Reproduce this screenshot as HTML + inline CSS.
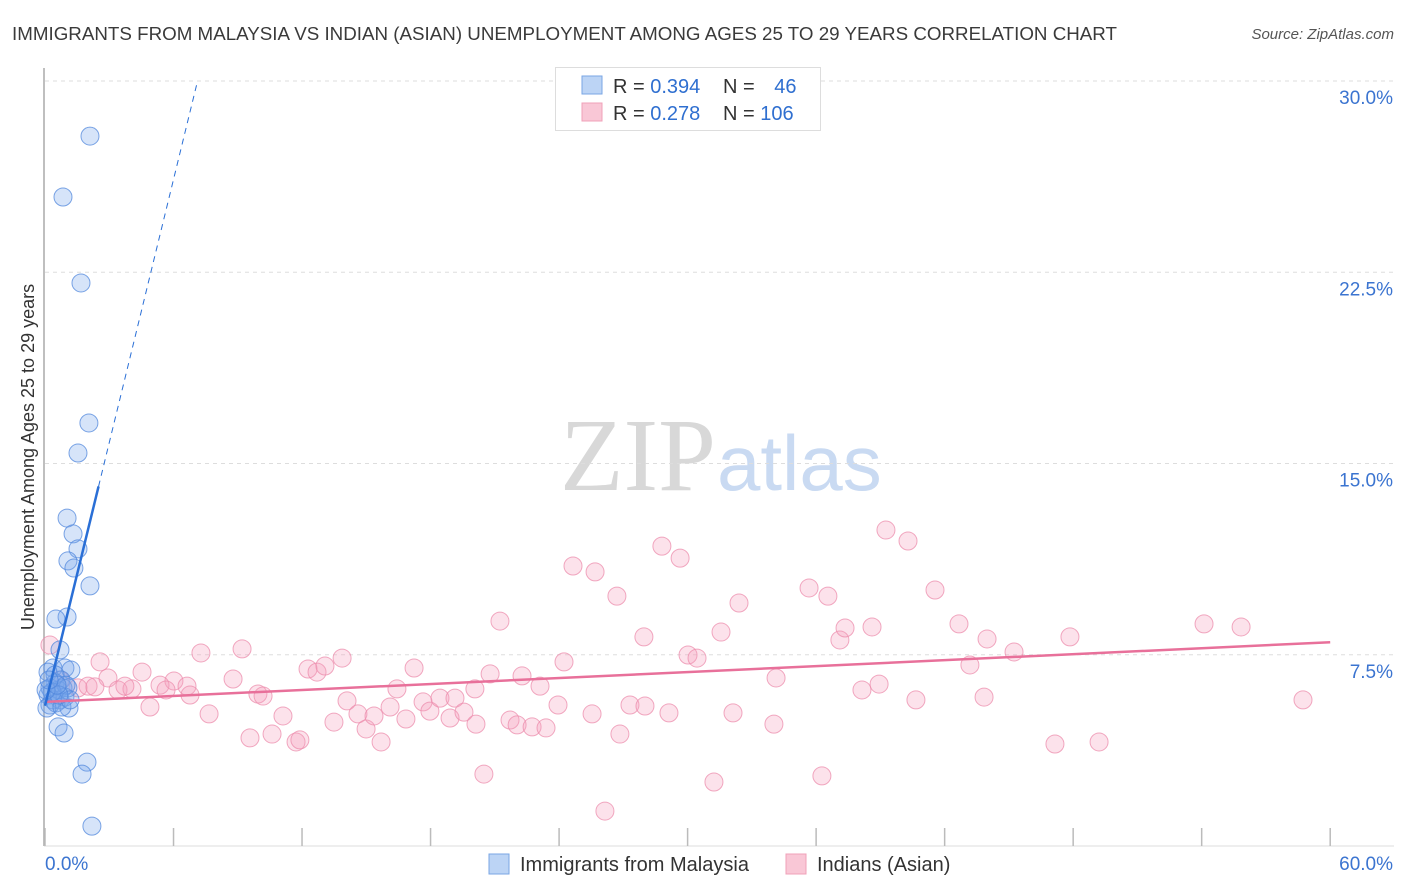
<!DOCTYPE html>
<html><head><meta charset="utf-8"><style>
body{margin:0;background:#fff;font-family:"Liberation Sans",sans-serif;}
#wrap{position:relative;width:1406px;height:892px;overflow:hidden;}
</style></head><body>
<div id="wrap">
<svg id="svg" width="1406" height="892" xmlns="http://www.w3.org/2000/svg">
<text x="12" y="40" font-size="18.5" fill="#3a3a3a" textLength="1105" lengthAdjust="spacingAndGlyphs">IMMIGRANTS FROM MALAYSIA VS INDIAN (ASIAN) UNEMPLOYMENT AMONG AGES 25 TO 29 YEARS CORRELATION CHART</text>
<text x="1394" y="39" font-size="15" fill="#555" font-style="italic" text-anchor="end">Source: ZipAtlas.com</text>
<text x="716" y="490" font-size="104" fill="#d8d8d8" font-family="Liberation Serif,serif" text-anchor="end">ZIP</text>
<text x="717" y="490" font-size="78" fill="#c9daf2">atlas</text>
<text transform="translate(34,457) rotate(-90)" font-size="18" fill="#333" text-anchor="middle">Unemployment Among Ages 25 to 29 years</text>
<g id="grid"></g><g id="marks"></g>
<g>
<rect x="555.5" y="67.5" width="265" height="63" fill="#fff" stroke="#ddd"/>
<rect x="582" y="76" width="20" height="18" fill="#bcd4f5" stroke="#7aa6e4"/>
<rect x="582" y="103" width="20" height="18" fill="#f9c7d6" stroke="#f0a0b8"/>
<text x="613" y="93" font-size="20" fill="#333">R = <tspan fill="#2f6fd0">0.394</tspan></text>
<text x="723" y="93" font-size="20" fill="#333">N = <tspan fill="#2f6fd0" dx="14">46</tspan></text>
<text x="613" y="120" font-size="20" fill="#333">R = <tspan fill="#2f6fd0">0.278</tspan></text>
<text x="723" y="120" font-size="20" fill="#333">N = <tspan fill="#2f6fd0">106</tspan></text>
</g>
<g>
<rect x="489" y="854" width="20" height="20" fill="#bcd4f5" stroke="#7aa6e4"/>
<text x="520" y="871" font-size="20" fill="#333">Immigrants from Malaysia</text>
<rect x="786" y="854" width="20" height="20" fill="#f9c7d6" stroke="#f0a0b8"/>
<text x="817" y="871" font-size="20" fill="#333">Indians (Asian)</text>
</g>
</svg>
</div>
<script>
const xTicks=[0,6,12,18,24,30,36,42,48,54,60];
const yTicks=[7.5,15,22.5,30];
const yTickLabels=["7.5%","15.0%","22.5%","30.0%"];
const blueX=[2.10,0.84,1.68,2.05,1.54,1.03,1.31,1.54,1.07,1.35,2.10,1.03,0.51,0.70,0.37,0.93,1.21,0.14,0.75,0.47,0.23,0.61,0.84,1.07,0.14,0.37,0.70,0.93,0.23,0.51,1.12,0.09,0.79,0.61,0.89,1.96,1.73,2.19,0.47,0.98,0.33,1.17,0.65,0.05,0.56,0.19];
const blueY=[27.84,25.45,22.08,16.59,15.41,12.86,12.24,11.65,11.18,10.90,10.20,8.98,8.90,7.69,6.98,6.98,6.90,6.82,6.51,6.39,6.20,6.12,6.20,6.20,5.92,5.73,5.73,5.84,5.53,5.61,5.41,5.41,5.45,4.67,4.43,3.29,2.82,0.78,6.71,6.31,6.04,5.73,5.92,6.12,6.31,6.51];
const pinkX=[0.23,2.57,7.28,9.20,2.94,4.53,6.02,6.63,8.78,3.41,4.06,5.37,1.54,2.01,4.90,5.65,6.77,7.66,9.94,10.18,11.11,10.60,9.57,11.72,11.90,12.28,12.70,13.07,13.87,14.10,13.49,14.61,14.99,15.36,15.69,16.11,16.43,16.85,17.23,17.65,17.97,18.44,18.91,19.14,19.56,20.07,20.78,21.24,20.12,20.49,21.71,22.04,22.27,22.74,23.11,23.39,23.95,24.23,24.65,25.54,25.68,26.14,26.70,26.84,27.31,27.96,28.01,28.80,29.13,29.65,30.02,30.44,31.23,31.56,32.12,32.40,34.03,34.13,35.67,36.27,36.55,37.11,37.35,38.14,38.61,38.94,39.26,40.29,40.66,41.55,42.67,43.18,43.84,43.98,45.24,47.15,47.85,49.21,54.11,55.84,58.73,3.73,0.70,2.33];
const pinkY=[7.88,7.22,7.57,7.73,6.59,6.82,6.47,6.27,6.55,6.12,6.16,6.31,6.20,6.27,5.45,6.12,5.92,5.18,5.96,5.88,5.10,4.39,4.24,4.08,4.16,6.94,6.82,7.06,7.37,5.69,4.86,5.18,4.59,5.10,4.08,5.45,6.16,4.98,6.98,5.65,5.29,5.80,5.02,5.80,5.25,6.16,6.75,8.82,4.78,2.82,4.94,4.75,6.67,4.67,6.27,4.63,5.53,7.22,10.98,5.18,10.75,1.37,9.80,4.39,5.53,8.20,5.49,11.76,5.22,11.29,7.49,7.37,2.51,8.39,5.22,9.53,4.78,6.59,10.12,2.75,9.80,8.08,8.55,6.12,8.59,6.35,12.39,11.96,5.73,10.04,8.71,7.10,5.84,8.12,7.61,4.00,8.20,4.08,8.71,8.59,5.73,6.27,6.51,6.24];
const blueLine=[5.5,3.44];
const pinkLine=[5.65,0.039];
const NS='http://www.w3.org/2000/svg';
const X=v=>45+v*21.42, Y=v=>846-v*25.5;
function mk(t,a,p){const e=document.createElementNS(NS,t);for(const k in a)e.setAttribute(k,a[k]);p.appendChild(e);return e;}
const g=document.getElementById('grid'), m=document.getElementById('marks');
yTicks.forEach((t,i)=>{
 const l=mk('line',{x1:45,x2:1394,y1:Y(t),y2:Y(t),stroke:'#ddd','stroke-dasharray':'4,4'},g);
 
 
 const tx=mk('text',{x:1393,y:Y(t)+23,'font-size':19,fill:'#3b74d0','text-anchor':'end'},g);
 tx.textContent=yTickLabels[i];
 
 
});
mk('line',{x1:44,x2:44,y1:68,y2:846,stroke:'#aaa','stroke-width':1.5},g);
mk('line',{x1:44,x2:1394,y1:846,y2:846,stroke:'#ddd'},g);
xTicks.forEach(t=>{
 const l=mk('line',{x1:X(t),x2:X(t),y1:828,y2:846,stroke:'#bbb','stroke-width':1.5},g);
 
 
});
const xl0=mk('text',{x:45,y:870,'font-size':19,fill:'#3b74d0'},g);xl0.textContent='0.0%';


const xl1=mk('text',{x:1393,y:870,'font-size':19,fill:'#3b74d0','text-anchor':'end'},g);xl1.textContent='60.0%';


pinkX.forEach((x,i)=>{
 const c=mk('circle',{cx:X(x),cy:Y(pinkY[i]),r:9,fill:'rgba(244,160,188,0.3)',stroke:'rgba(236,140,172,0.75)','stroke-width':1},m);
 
 
});
blueX.forEach((x,i)=>{
 const c=mk('circle',{cx:X(x),cy:Y(blueY[i]),r:9,fill:'rgba(120,165,235,0.3)',stroke:'rgba(80,135,220,0.75)','stroke-width':1},m);
 
 
});
const pl=mk('line',{x1:X(0),y1:Y(pinkLine[0]),x2:X(60),y2:Y(pinkLine[0]+pinkLine[1]*60),stroke:'#e8709a','stroke-width':2.5},m);


const bl=mk('line',{x1:X(0),y1:Y(blueLine[0]),x2:X(2.5),y2:Y(blueLine[0]+blueLine[1]*2.5),stroke:'#2a6fd6','stroke-width':2.5},m);


const bd=mk('line',{x1:X(2.5),y1:Y(blueLine[0]+blueLine[1]*2.5),x2:X(7.1),y2:Y(blueLine[0]+blueLine[1]*7.1),stroke:'#2a6fd6','stroke-width':1,'stroke-dasharray':'6,5'},m);


</script>
</body></html>
